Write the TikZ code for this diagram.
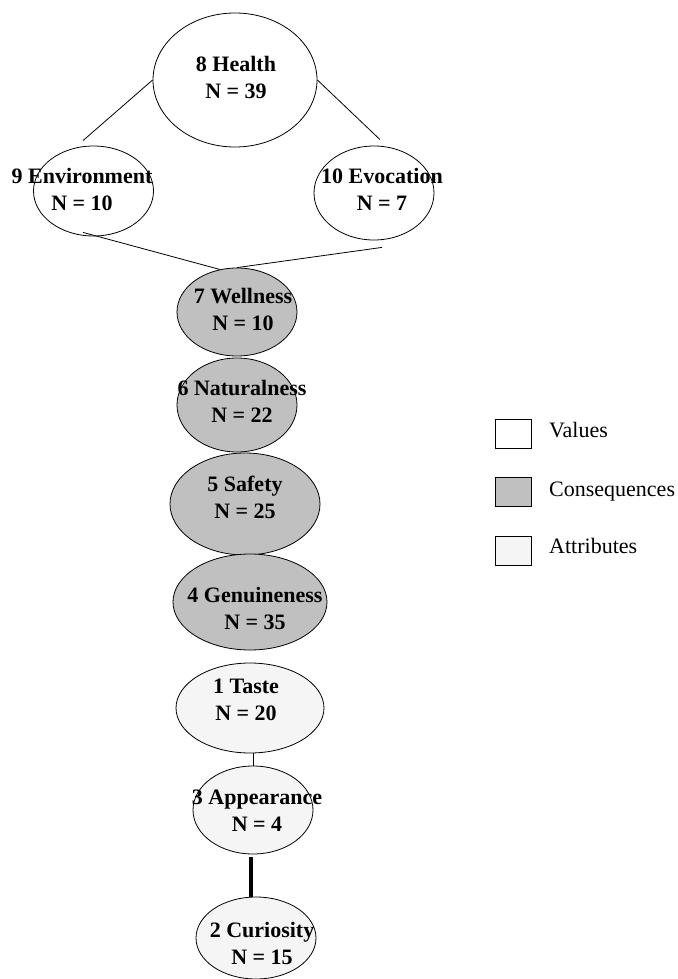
\documentclass[tikz,border=0pt]{standalone}
\usepackage{fontspec}
\setmainfont{Liberation Serif}
\usetikzlibrary{shapes.geometric,calc}

\definecolor{consgray}{RGB}{192,192,192}
\definecolor{attrgray}{RGB}{245,245,245}

\tikzset{
  oval/.style={ellipse, draw=black, line width=0.8pt, inner sep=0pt},
  value/.style={oval, fill=white},
  conseq/.style={oval, fill=consgray},
  attrib/.style={oval, fill=attrgray},
  lbl/.style={font=\fontsize{22}{27}\selectfont\bfseries, align=center, inner sep=0pt},
  keybox/.style={draw=black, line width=0.8pt, minimum width=36pt, minimum height=29pt, inner sep=0pt},
  keytext/.style={font=\fontsize{22}{25}\selectfont, anchor=base west, inner sep=0pt},
  link/.style={black, line width=0.8pt}
}

\begin{document}
\begin{tikzpicture}[x=1pt, y=1pt]
\fill[white] (0,0) rectangle (677,-979);
\useasboundingbox (0,0) rectangle (677,-979);

%%%%%%%%% values
\node[value, minimum width=164, minimum height=134] (health) at (235,-80) {};
\node[value, minimum width=120, minimum height=90] (env) at (93.5,-191) {};
\node[value, minimum width=120, minimum height=94] (evo) at (374,-193) {};

%%%%%%%%% consequences
\node[conseq, minimum width=120, minimum height=88] (wellness) at (237,-312) {};
\node[conseq, minimum width=120, minimum height=94] (natural) at (237,-405) {};
\node[conseq, minimum width=150, minimum height=102] (safety) at (245,-504) {};
\node[conseq, minimum width=154, minimum height=96] (genuine) at (250,-602) {};

%%%%%%%%% attributes
\node[attrib, minimum width=148, minimum height=90] (taste) at (250,-708) {};
\node[attrib, minimum width=120, minimum height=88] (appear) at (253,-810) {};
\node[attrib, minimum width=120, minimum height=82] (curious) at (256,-938) {};

%%%%%%%%% links
\draw[link] (health.west) -- ($(env.north)+(-10.5,5)$);
\draw[link] (health.east) -- ($(evo.north)+(6,6)$);
\draw[link] ($(env.south)+(-10.5,4)$) -- (wellness.112);
\draw[link] ($(evo.south)+(8,-7)$) -- (wellness.north);
\draw[link] (appear.north |- taste.south) -- (appear.north);
\draw[black, line width=3.5pt, shorten <=3pt] ($(appear.south)+(-2,0)$) -- ($(appear.south |- curious.north)+(-2,0)$);

%%%%%%%%% labels
\node[lbl] (health-lbl) at (236,-77) {8 Health\\N = 39};
\node[lbl] (env-lbl) at (82,-189) {9 Environment\\N = 10};
\node[lbl] (evo-lbl) at (382,-189) {10 Evocation\\N = 7};
\node[lbl] (wellness-lbl) at (243,-309) {7 Wellness\\N = 10};
\node[lbl] (natural-lbl) at (242,-401) {6 Naturalness\\N = 22};
\node[lbl] (safety-lbl) at (245,-497) {5 Safety\\N = 25};
\node[lbl] (genuine-lbl) at (255,-608) {4 Genuineness\\N = 35};
\node[lbl] (taste-lbl) at (246,-700) {1 Taste\\N = 20};
\node[lbl] (appear-lbl) at (257,-811) {3 Appearance\\N = 4};
\node[lbl] (curious-lbl) at (262,-943) {2 Curiosity\\N = 15};

%%%%%%%%% legend
\node[keybox, fill=white] (key-val) at (513,-433.5) {};
\node[keybox, fill=consgray] (key-cons) at (513,-492) {};
\node[keybox, fill=attrgray] (key-attr) at (513,-550.5) {};
\node[keytext] (key-val-txt) at (549,-437) {Values};
\node[keytext] (key-cons-txt) at (549,-496) {Consequences};
\node[keytext] (key-attr-txt) at (549,-553) {Attributes};

\end{tikzpicture}
\end{document}
